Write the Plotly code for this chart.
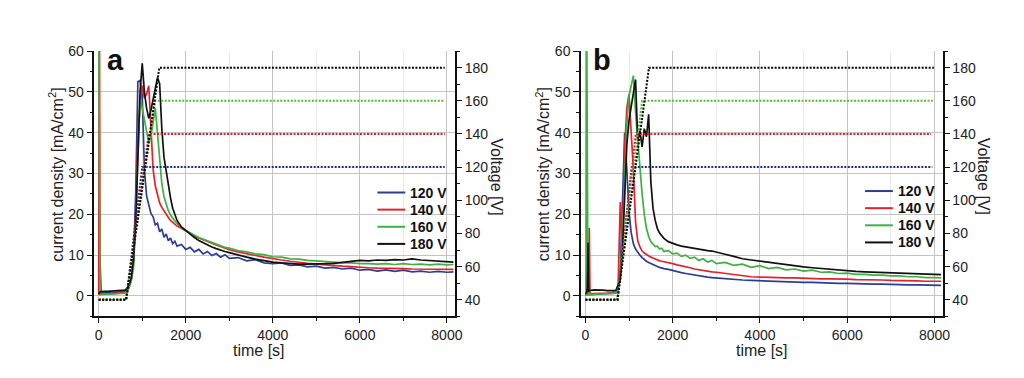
import plotly.graph_objects as go

# ---------------- data ----------------
T = [0, 15, 30, 45, 60, 75, 90, 105, 120,
     200, 300, 400, 500, 600,
     650, 700, 750, 800, 850, 900, 950, 1000, 1050, 1100, 1150, 1200,
     1250, 1300, 1350, 1400, 1450, 1500, 1550, 1600, 1650, 1700, 1750, 1800,
     1900, 2000, 2100, 2200, 2300, 2400, 2500, 2600, 2700, 2800, 2900, 3000,
     3200, 3400, 3600, 3800, 4000, 4200, 4400, 4600, 4800, 5000, 5200, 5400,
     5600, 5800, 6000, 6200, 6400, 6600, 6800, 7000, 7200, 7400, 7600, 7800, 8000,
     8150]

labels = ["120 V", "140 V", "160 V", "180 V"]

# panel a: current density [mA/cm2]
a_120 = [0.3, 0.5, 0.5, 0.6, 0.6, 0.6, 0.7, 0.6, 0.7,
         0.8, 0.7, 0.9, 1.0, 1.3,
         1.8, 2.8, 4.5, 9, 25, 52.5, 52.8, 49, 31, 24.5, 22.6, 20.2,
         19.4, 17.4, 17.8, 15.7, 16.4, 14.4, 15.2, 13.5, 14.2, 12.8, 13.4, 12.2,
         12.6, 11.4, 11.9, 10.8, 11.4, 10.3, 10.9, 9.9, 10.4, 9.5, 10.1, 9.2,
         9.4, 8.6, 8.9, 8.1, 7.9, 8.1, 7.5, 7.6, 7.1, 7.3, 6.8, 7.0,
         6.6, 6.8, 6.3, 6.5, 6.1, 6.4, 6.0, 6.3, 5.9, 6.1, 5.8, 6.0, 5.8,
         5.9]
a_140 = [0.2, 75, 8.7, 0.6, 0.5, 0.5, 0.5, 0.5, 0.5,
         0.6, 0.6, 0.7, 0.8, 1.0,
         1.4, 2.3, 4.0, 8, 20, 38, 47, 51.5, 48.5, 49.5, 51.5, 40,
         31, 27, 24.5, 22.8, 21.7, 20.8, 19.9, 19.2, 18.5, 18.0, 17.5, 17.1,
         16.6, 15.9, 15.3, 14.7, 14.2, 13.7, 13.3, 12.9, 12.5, 12.1, 11.7, 11.3,
         10.8, 10.3, 9.9, 9.5, 9.1, 8.8, 8.5, 8.2, 8.0, 7.8, 7.6, 7.4,
         7.3, 7.2, 7.0, 6.9, 6.8, 6.8, 6.7, 6.7, 6.6, 6.6, 6.5, 6.5, 6.5,
         6.5]
a_160 = [70, 0.4, 0.3, 0.3, 0.4, 0.4, 0.4, 0.4, 0.4,
         0.4, 0.5, 0.5, 0.6, 0.7,
         1.0, 2.0, 3.8, 7, 18, 36, 48.5, 46, 43, 40, 37.5, 39,
         42.5, 46, 40, 33, 27.5, 24.3, 22.3, 20.9, 19.8, 19.0, 18.4, 17.8,
         16.8, 16.1, 15.4, 14.9, 14.3, 13.9, 13.4, 13.1, 12.6, 12.3, 11.9, 11.7,
         11.1, 10.8, 10.3, 10.1, 9.6, 9.5, 9.1, 9.0, 8.7, 8.6, 8.4, 8.3,
         8.1, 8.1, 7.9, 7.9, 7.8, 7.9, 7.7, 7.9, 7.7, 7.8, 7.6, 7.8, 7.6,
         7.7]
a_180 = [0.5, 0.8, 1.0, 1.0, 1.1, 1.0, 1.1, 1.0, 1.1,
         1.1, 1.2, 1.2, 1.3, 1.4,
         1.8, 2.8, 4.5, 9, 18, 33, 50, 57, 50, 46, 43.5, 45.5,
         48, 51, 53.5, 52, 41, 34, 30.5, 27, 24, 21.5, 19.8, 18.5,
         16.9, 16.0, 15.1, 14.3, 13.6, 13.0, 12.5, 12.0, 11.6, 11.2, 10.9, 10.6,
         10.0, 9.5, 9.0, 8.6, 8.3, 8.1, 7.9, 7.8, 7.8, 7.8, 7.9, 8.0,
         8.2, 8.5, 8.7, 8.6, 8.8, 8.7, 8.9, 8.8, 9.1, 8.8, 8.7, 8.5, 8.4,
         8.3]

# panel b: current density [mA/cm2]
b_120 = [0.3, 0.3, 0.4, 0.4, 0.4, 0.4, 0.4, 0.4, 0.4,
         0.4, 0.5, 0.5, 0.5, 0.6,
         0.6, 0.7, 1.5, 6, 22, 40, 31, 20.5, 15.5, 12.8, 11.5, 10.6,
         10.0, 9.4, 8.9, 8.5, 8.2, 7.9, 7.7, 7.4, 7.2, 7.0, 6.8, 6.7,
         6.5, 6.2, 5.9, 5.7, 5.5, 5.3, 5.1, 4.9, 4.7, 4.6, 4.5, 4.4,
         4.2, 4.0, 3.9, 3.8, 3.7, 3.6, 3.5, 3.4, 3.4, 3.3, 3.3, 3.2,
         3.2, 3.1, 3.1, 3.0, 3.0, 2.9, 2.9, 2.8, 2.8, 2.7, 2.7, 2.7, 2.6,
         2.6]
b_140 = [0.3, 0.4, 0.4, 0.5, 0.5, 2.0, 16.7, 0.8, 0.6,
         0.6, 0.6, 0.7, 0.7, 0.8,
         0.9, 1.0, 2.5, 23, 10, 36, 46, 49.5, 40, 31, 18, 13.5,
         12.0, 11.0, 10.5, 10.1, 9.8, 9.5, 9.3, 9.0, 8.8, 8.6, 8.5, 8.4,
         8.2, 7.9, 7.6, 7.4, 7.1, 6.9, 6.6, 6.4, 6.3, 6.1, 5.9, 5.8,
         5.5, 5.2, 5.0, 4.7, 4.6, 4.5, 4.5, 4.4, 4.4, 4.3, 4.3, 4.2,
         4.2, 4.2, 4.1, 4.0, 4.0, 3.9, 3.9, 3.8, 3.8, 3.7, 3.7, 3.6, 3.6,
         3.6]
b_160 = [0.3, 0.3, 70, 0.5, 0.4, 0.4, 0.4, 0.4, 0.4,
         0.5, 0.5, 0.5, 0.6, 0.6,
         0.7, 0.8, 2.0, 5.5, 14, 28, 42, 49, 51.5, 54, 45, 38,
         32, 25, 20, 16.5, 14.6, 13.3, 12.7, 12.1, 12.2, 11.5, 11.7, 10.9,
         11.1, 10.3, 10.5, 9.7, 10.0, 9.2, 9.5, 8.7, 9.1, 8.3, 8.7, 7.9,
         8.2, 7.5, 7.8, 7.0, 7.4, 6.7, 7.0, 6.4, 6.6, 6.1, 6.3, 5.8,
         5.9, 5.5, 5.6, 5.3, 5.3, 5.1, 5.1, 4.9, 4.9, 4.7, 4.7, 4.5, 4.5,
         4.4]
b_180 = [0.5, 0.6, 0.8, 2.0, 13, 1.2, 1.3, 1.4, 1.4,
         1.5, 1.5, 1.4, 1.3, 1.2,
         1.3, 1.4, 2.5, 4, 11, 24, 37, 43, 46, 50, 53, 38,
         40.5, 36.5, 41, 39, 44.5, 28, 21.5, 18.5, 16.5, 15.4, 14.7, 14.1,
         13.3, 12.8, 12.5, 12.2, 12.0, 11.8, 11.6, 11.4, 11.2, 11.1, 11.0, 10.7,
         10.2, 9.7, 9.1, 8.8, 8.5, 8.3, 8.0, 7.7, 7.4, 7.1, 6.9, 6.7,
         6.5, 6.3, 6.1, 6.0, 5.9, 5.8, 5.7, 5.6, 5.5, 5.4, 5.3, 5.3, 5.2,
         5.2]

# applied voltage [V] (dotted)
va_t = [[0, 630, 1000, 7950], [0, 630, 1150, 7950],
        [0, 630, 1300, 7950], [0, 630, 1393, 7950]]
vb_t = [[0, 735, 1064, 7950], [0, 735, 1155, 7920],
        [0, 735, 1300, 7960], [0, 735, 1458, 7985]]
v_120 = [40, 40, 120, 120]
v_140 = [40, 40, 140, 140]
v_160 = [40, 40, 160, 160]
v_180 = [40, 40, 180, 180]

x_ticks = [0, 2000, 4000, 6000, 8000]
y_ticks = [0, 10, 20, 30, 40, 50, 60]
v_ticks = [40, 60, 80, 100, 120, 140, 160, 180]

# ---------------- styling ----------------
cur_colors = ["#2c3d96", "#e2232b", "#3fb043", "#111111"]
volt_colors = ["#1f2c80", "#e41e26", "#52bb3a", "#000000"]
FONT = "Liberation Sans, Arial, sans-serif"
W, H = 1024, 378


def px(x):
    return x / W


def py(y):
    return 1 - y / H


Y_DOM = [py(315), py(44)]
PANELS = [
    dict(xd=[px(95), px(458.3)], x="x", y="y", yv="y2", xt="x3",
         cur=[a_120, a_140, a_160, a_180], vt=va_t, letter="a"),
    dict(xd=[px(585), px(949.3)], x="x2", y="y3", yv="y4", xt="x4",
         cur=[b_120, b_140, b_160, b_180], vt=vb_t, letter="b"),
]
volts = [v_120, v_140, v_160, v_180]

fig = go.Figure()
for p in PANELS:
    for i in range(4):
        fig.add_trace(go.Scatter(x=T, y=p["cur"][i], mode="lines", xaxis=p["x"], yaxis=p["y"],
                                 line=dict(color=cur_colors[i], width=1.7), showlegend=False,
                                 name=labels[i]))
    for i in range(4):
        fig.add_trace(go.Scatter(x=p["vt"][i], y=volts[i], mode="lines", xaxis=p["x"], yaxis=p["yv"],
                                 line=dict(color=volt_colors[i], width=2, dash="2px,1.5px"),
                                 showlegend=False))

axis_line = dict(showline=True, linecolor="#111", linewidth=1.5)
tickfont = dict(family=FONT, size=14, color="#222")
XR = [-100, 8190]

layout = dict(
    width=W, height=H, autosize=False,
    margin=dict(l=0, r=0, t=0, b=0),
    paper_bgcolor="white", plot_bgcolor="white",
    font=dict(family=FONT, size=14, color="#222"),
    showlegend=False,
    hovermode=False,
)
for k, p in enumerate(PANELS):
    xn = "xaxis" if k == 0 else "xaxis2"
    yn = "yaxis" if k == 0 else "yaxis3"
    yvn = "yaxis2" if k == 0 else "yaxis4"
    xtn = "xaxis3" if k == 0 else "xaxis4"
    layout[xn] = dict(domain=p["xd"], anchor=p["y"], range=XR, tickvals=x_ticks,
                      ticks="outside", ticklen=5, tickwidth=1.2, tickcolor="#111",
                      showgrid=True, gridcolor="#c4c4c4", gridwidth=1, zeroline=False,
                      tickfont=tickfont,
                      minor=dict(dtick=1000, tick0=0, ticks="outside", ticklen=3,
                                 tickcolor="#111", showgrid=True, gridcolor="#e8e8e8"),
                      **axis_line)
    layout[xtn] = dict(overlaying=p["x"], anchor=p["y"], side="top", range=XR,
                       tickvals=x_ticks, ticks="inside", ticklen=5, tickcolor="#111",
                       showticklabels=False, showgrid=False, zeroline=False,
                       minor=dict(dtick=1000, tick0=0, ticks="inside", ticklen=5,
                                  tickcolor="#111", showgrid=False),
                       **axis_line)
    layout[yn] = dict(domain=Y_DOM, anchor=p["x"], range=[-5, 60], tickvals=y_ticks,
                      ticks="outside", ticklen=6, tickwidth=1.2, tickcolor="#111",
                      showgrid=True, gridcolor="#c4c4c4", gridwidth=1, zeroline=False,
                      tickfont=tickfont,
                      minor=dict(dtick=5, tick0=0, ticks="outside", ticklen=3,
                                 tickcolor="#111", showgrid=False),
                      **axis_line)
    layout[yvn] = dict(overlaying=p["y"], anchor=p["x"], side="right", range=[30, 190],
                       tickvals=v_ticks, ticks="outside", ticklen=5, tickwidth=1.2,
                       tickcolor="#111", showgrid=False, zeroline=False, tickfont=tickfont,
                       minor=dict(dtick=10, tick0=0, ticks="outside", ticklen=3,
                                  tickcolor="#111", showgrid=False),
                       **axis_line)

annotations = []
shapes = []
title_font = dict(family=FONT, size=16, color="#222")
pan_geo = [
    dict(ylab_x=56.7, vlab_x=500.5, tlab_x=261, let_x=105.5, leg_x0=380, leg_x1=408,
         leg_tx=410.5, leg_y0=188.5),
    dict(ylab_x=546.7, vlab_x=990.5, tlab_x=767.5, let_x=595.5, leg_x0=871, leg_x1=899,
         leg_tx=902.5, leg_y0=187.0),
]
for k, g in enumerate(pan_geo):
    annotations.append(dict(text="current density [mA/cm<sup>2</sup>]", textangle=-90,
                            x=px(g["ylab_x"]), y=py(170), xref="paper", yref="paper",
                            xanchor="center", yanchor="middle", showarrow=False, font=title_font))
    annotations.append(dict(text="Voltage [V]", textangle=90,
                            x=px(g["vlab_x"]), y=py(172), xref="paper", yref="paper",
                            xanchor="center", yanchor="middle", showarrow=False, font=title_font))
    annotations.append(dict(text="time [s]", x=px(g["tlab_x"]), y=py(350), xref="paper",
                            yref="paper", xanchor="center", yanchor="middle", showarrow=False,
                            font=title_font))
    annotations.append(dict(text="<b>%s</b>" % PANELS[k]["letter"], x=px(g["let_x"]), y=py(35),
                            xref="paper", yref="paper", xanchor="left", yanchor="top",
                            showarrow=False,
                            font=dict(family=FONT, size=29, color="#111")))
    for i in range(4):
        yy = g["leg_y0"] + 17.5 * i
        shapes.append(dict(type="line", xref="paper", yref="paper",
                           x0=px(g["leg_x0"]), x1=px(g["leg_x1"]), y0=py(yy), y1=py(yy),
                           line=dict(color=cur_colors[i], width=2)))
        annotations.append(dict(text="<b>%s</b>" % labels[i], x=px(g["leg_tx"]), y=py(yy),
                                xref="paper", yref="paper", xanchor="left", yanchor="middle",
                                showarrow=False,
                                font=dict(family=FONT, size=14, color="#111")))

layout["annotations"] = annotations
layout["shapes"] = shapes
fig.update_layout(**layout)
fig.write_html("out.html", config={"displayModeBar": False},
               post_script="document.body.style.margin='0px';")
